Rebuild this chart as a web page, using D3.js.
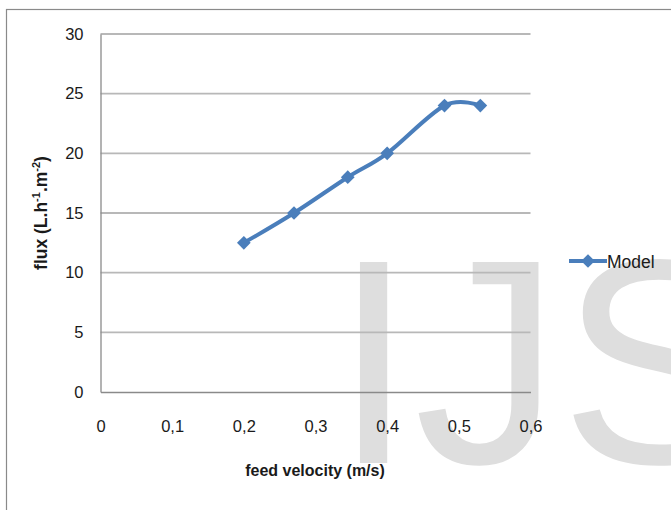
<!DOCTYPE html>
<html><head><meta charset="utf-8">
<script src="https://cdn.jsdelivr.net/npm/d3@7"></script>
<style>body{margin:0;background:#fff}svg{display:block}</style>
</head><body><div id="chart"></div>
<script>
const velocity = [0.2, 0.27, 0.345, 0.4, 0.48, 0.53];
const flux = [12.5, 15, 18, 20, 24, 24];
const seriesName = "Model";
const xTicks = [0, 0.1, 0.2, 0.3, 0.4, 0.5, 0.6];
const yTicks = [0, 5, 10, 15, 20, 25, 30];

const W = 671, H = 510;
const svg = d3.select("#chart").append("svg").attr("width", W).attr("height", H);
const font = "'Liberation Sans', Arial, sans-serif";

// watermark
svg.append("text").attr("x", 333).attr("y", 463)
  .attr("font-family", font).attr("font-size", 292)
  .attr("fill", "#dedede").text("IJS");

// outer border
svg.append("rect").attr("x", 6.5).attr("y", 9.5).attr("width", W + 10).attr("height", H + 10)
  .attr("fill", "none").attr("stroke", "#8a8a8a").attr("stroke-width", 1.2);

const x = d3.scaleLinear().domain([0, 0.6]).range([100.5, 530.5]);
const y = d3.scaleLinear().domain([0, 30]).range([392, 34]);

// gridlines
svg.append("g").selectAll("line").data(yTicks.filter(d => d > 0)).join("line")
  .attr("x1", x(0)).attr("x2", x(0.6)).attr("y1", d => y(d)).attr("y2", d => y(d))
  .attr("stroke", "#b8b8b8").attr("stroke-width", 1.8);

// y axis
const yAxis = svg.append("g").attr("transform", `translate(${x(0)},0)`)
  .call(d3.axisLeft(y).tickValues(yTicks).tickSize(0).tickPadding(17));
yAxis.select(".domain").attr("stroke", "#8a8a8a").attr("stroke-width", 1.3);
yAxis.selectAll("text").attr("font-family", font).attr("font-size", 16.5).attr("fill", "#1a1a1a");

// x axis
const xAxis = svg.append("g").attr("transform", `translate(0,${y(0)})`)
  .call(d3.axisBottom(x).tickValues(xTicks).tickSize(0).tickPadding(28)
    .tickFormat(d => d3.format(".1~f")(d).replace(".", ",")));
xAxis.select(".domain").attr("stroke", "#8a8a8a").attr("stroke-width", 1.3);
xAxis.selectAll("text").attr("font-family", font).attr("font-size", 16.5).attr("fill", "#1a1a1a");

// axis titles
svg.append("text").attr("x", 315).attr("y", 476).attr("text-anchor", "middle")
  .attr("font-family", font).attr("font-size", 16).attr("font-weight", "bold").attr("fill", "#1a1a1a")
  .text("feed velocity (m/s)");

const yt = svg.append("text").attr("transform", "translate(47,213) rotate(-90)")
  .attr("text-anchor", "middle").attr("font-family", font).attr("font-size", 17.5)
  .attr("font-weight", "bold").attr("fill", "#1a1a1a");
yt.append("tspan").text("flux (L.h");
yt.append("tspan").attr("font-size", 11).attr("dy", -7).text("-1");
yt.append("tspan").attr("dy", 7).text(".m");
yt.append("tspan").attr("font-size", 11).attr("dy", -7).text("-2");
yt.append("tspan").attr("dy", 7).text(")");

// series
const color = "#4a7ebb";
const data = velocity.map((v, i) => [v, flux[i]]);
svg.append("path").datum(data)
  .attr("d", d3.line().x(d => x(d[0])).y(d => y(d[1])).curve(d3.curveCardinal.tension(0)))
  .attr("fill", "none").attr("stroke", color).attr("stroke-width", 4).attr("stroke-linejoin", "round");
const diamond = d3.symbol().type(d3.symbolDiamond2).size(120);
svg.append("g").selectAll("path").data(data).join("path")
  .attr("transform", d => `translate(${x(d[0])},${y(d[1])})`)
  .attr("d", diamond).attr("fill", color);

// legend
svg.append("line").attr("x1", 569).attr("x2", 607).attr("y1", 261).attr("y2", 261)
  .attr("stroke", color).attr("stroke-width", 4);
svg.append("path").attr("transform", "translate(588,261)").attr("d", diamond).attr("fill", color);
svg.append("text").attr("x", 607).attr("y", 267.5).attr("font-family", font).attr("font-size", 17.5)
  .attr("fill", "#1a1a1a").text(seriesName);
</script></body></html>
